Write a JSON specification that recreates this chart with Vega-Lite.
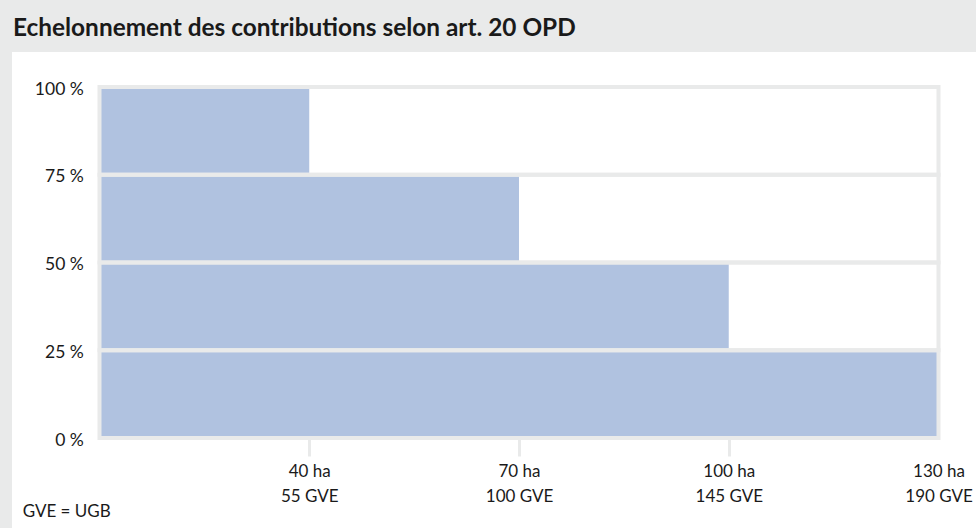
{
  "$schema": "https://vega.github.io/schema/vega-lite/v6.json",
  "width": 964,
  "height": 476,
  "autosize": {"type": "none"},
  "padding": {"top": 52, "left": 12, "right": 0, "bottom": 0},
  "background": "#e9eaea",
  "config": {"view": {"fill": "white", "stroke": null}, "font": "Lato"},
  "title": {
    "text": "Echelonnement des contributions selon art. 20 OPD",
    "anchor": "start",
    "frame": "group",
    "fontSize": 24.4,
    "fontWeight": "bold",
    "font": "Lato",
    "color": "#1a1a1a",
    "baseline": "alphabetic",
    "offset": 15,
    "dx": 1,
    "dy": 23
  },
  "data": {"values": [
    {"lo": 0, "hi": 25, "end": 4},
    {"lo": 25, "hi": 50, "end": 3},
    {"lo": 50, "hi": 75, "end": 2},
    {"lo": 75, "hi": 100, "end": 1}
  ]},
  "layer": [
    {
      "mark": {"type": "rect", "color": "#b0c2e0"},
      "encoding": {
        "x": {
          "field": "end", "type": "quantitative",
          "scale": {"domain": [-0.41716, 4.17878], "nice": false, "zero": false},
          "axis": {
            "values": [1, 2, 3, 4],
            "labelExpr": "datum.value==1?['40 ha','55 GVE']:datum.value==2?['70 ha','100 GVE']:datum.value==3?['100 ha','145 GVE']:['130 ha','190 GVE']",
            "domain": false, "grid": false, "offset": -90,
            "tickSize": 18, "tickWidth": 3, "tickColor": "#e9eaea",
            "tickOpacity": {"condition": {"test": "datum.value == 4", "value": 0}, "value": 1},
            "labelPadding": 7, "labelFontSize": 17, "labelLineHeight": 25,
            "labelColor": "#1a1a1a", "labelFont": "Lato", "labelBaseline": "top",
            "labelFlush": false, "labelOverlap": false, "title": null
          }
        },
        "x2": {"datum": 0},
        "y": {
          "field": "lo", "type": "quantitative",
          "scale": {"domain": [-25.641, 109.972], "nice": false, "zero": false},
          "axis": {
            "values": [0, 25, 50, 75, 100],
            "labelExpr": "datum.value + ' %'",
            "domain": false, "ticks": false, "tickSize": 0, "grid": false,
            "offset": -87.5, "labelPadding": 16.2, "labelFontSize": 17.5,
            "labelOffset": 2, "labelColor": "#1a1a1a", "labelFont": "Lato",
            "labelFlush": false, "labelOverlap": false, "title": null
          }
        },
        "y2": {"field": "hi"}
      }
    },
    {
      "mark": {"type": "rect", "filled": false, "color": "#e9eaea", "strokeWidth": 4},
      "encoding": {
        "x": {"datum": 0, "type": "quantitative"},
        "x2": {"datum": 4},
        "y": {"field": "lo", "type": "quantitative"},
        "y2": {"field": "hi"}
      }
    },
    {
      "data": {"values": [{"note": "GVE = UGB"}]},
      "mark": {"type": "text", "align": "left", "baseline": "alphabetic", "fontSize": 17, "color": "#1a1a1a", "font": "Lato"},
      "encoding": {
        "x": {"datum": -0.366, "type": "quantitative"},
        "y": {"datum": -22.4, "type": "quantitative"},
        "text": {"field": "note"}
      }
    }
  ]
}
